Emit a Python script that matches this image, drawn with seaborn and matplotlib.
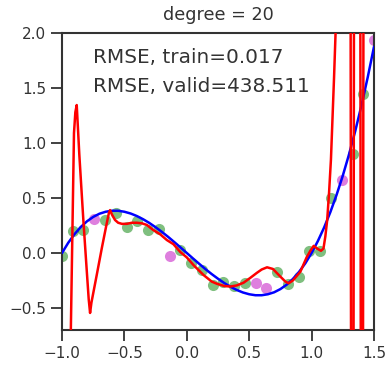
import numpy as np
import pandas as pd
import matplotlib
matplotlib.use("Agg")
import matplotlib.pyplot as plt
import seaborn as sns

# ---- data ----
train_x = [-1.000, -0.914, -0.828, -0.655, -0.569, -0.483, -0.397, -0.310, -0.224,
           -0.052, 0.034, 0.121, 0.207, 0.293, 0.379, 0.466, 0.724, 0.810, 0.897,
           0.983, 1.069, 1.155, 1.328, 1.414]
train_y = [-0.03, 0.20, 0.21, 0.30, 0.366, 0.234, 0.29, 0.21, 0.215,
           0.03, -0.095, -0.15, -0.29, -0.26, -0.30, -0.276, -0.17, -0.28, -0.215,
           0.02, 0.02, 0.50, 0.90, 1.445]
valid_x = [-0.741, -0.138, 0.552, 0.638, 1.241, 1.500]
valid_y = [0.306, -0.024, -0.276, -0.32, 0.66, 1.936]

true_x = [-1.00, -0.95, -0.90, -0.85, -0.80, -0.75, -0.70, -0.65, -0.60, -0.55,
          -0.50, -0.45, -0.40, -0.35, -0.30, -0.25, -0.20, -0.15, -0.10, -0.05,
          0.00, 0.05, 0.10, 0.15, 0.20, 0.25, 0.30, 0.35, 0.40, 0.45,
          0.50, 0.55, 0.60, 0.65, 0.70, 0.75, 0.80, 0.85, 0.90, 0.95,
          1.00, 1.05, 1.10, 1.15, 1.20, 1.25, 1.30, 1.35, 1.40, 1.45, 1.50]
true_y = [0.000, 0.093, 0.171, 0.236, 0.288, 0.328, 0.357, 0.375, 0.384, 0.384,
          0.375, 0.359, 0.336, 0.307, 0.273, 0.234, 0.192, 0.147, 0.099, 0.050,
          0.000, -0.050, -0.099, -0.147, -0.192, -0.234, -0.273, -0.307, -0.336, -0.359,
          -0.375, -0.384, -0.384, -0.375, -0.357, -0.328, -0.288, -0.236, -0.171, -0.093,
          0.000, 0.108, 0.231, 0.371, 0.528, 0.703, 0.897, 1.110, 1.344, 1.599, 1.875]

fit_x = [-0.932, -0.904, -0.893, -0.882, -0.861, -0.829, -0.802, -0.786, -0.775,
         -0.764, -0.72, -0.68, -0.645, -0.625, -0.615, -0.600, -0.575, -0.55, -0.52,
         -0.48, -0.44, -0.40, -0.36, -0.32, -0.27, -0.213, -0.16, -0.107, -0.053,
         0.000, 0.054, 0.134, 0.200, 0.242, 0.300, 0.348, 0.400, 0.455, 0.510,
         0.562, 0.600, 0.643, 0.690, 0.750, 0.790, 0.816, 0.850, 0.910, 0.960,
         0.990, 1.017, 1.045, 1.075, 1.095, 1.110, 1.125, 1.140, 1.155, 1.165,
         1.180, 1.192, 1.210, 1.312, 1.316, 1.336, 1.340, 1.390, 1.394, 1.412,
         1.416, 1.500]
fit_y = [-0.90, 1.09, 1.28, 1.345, 0.89, 0.30, -0.155, -0.42, -0.545,
         -0.45, -0.19, 0.05, 0.25, 0.36, 0.39, 0.35, 0.30, 0.275, 0.265,
         0.265, 0.275, 0.275, 0.27, 0.255, 0.21, 0.17, 0.118, 0.08, 0.01,
         -0.04, -0.11, -0.20, -0.26, -0.28, -0.30, -0.305, -0.295, -0.27, -0.225,
         -0.18, -0.15, -0.13, -0.145, -0.215, -0.26, -0.275, -0.25, -0.17, -0.04,
         0.02, 0.065, 0.04, 0.02, 0.04, 0.15, 0.30, 0.55, 0.85, 1.15,
         1.60, 2.00, 2.80, 2.80, -0.90, -0.90, 2.80, 2.80, -0.90, -0.90,
         2.80, 2.80]

title = "degree = 20"
label_train = "RMSE, train=0.017"
label_valid = "RMSE, valid=438.511"
xticks = [-1.0, -0.5, 0.0, 0.5, 1.0, 1.5]
yticks = [-0.5, 0.0, 0.5, 1.0, 1.5, 2.0]

# ---- plot ----
sns.set_theme(style="ticks")
plt.rcParams['font.family'] = ['DejaVu Sans']

fig = plt.figure(figsize=(3.85, 3.68), dpi=100)
ax = fig.add_axes([62/385, 1 - 330/368, (374 - 62)/385, (330 - 33)/368])

tr = pd.DataFrame({"x": train_x, "y": train_y})
va = pd.DataFrame({"x": valid_x, "y": valid_y})
tf = pd.DataFrame({"x": true_x, "y": true_y})
ff = pd.DataFrame({"x": fit_x, "y": fit_y})

sns.scatterplot(data=tr, x="x", y="y", ax=ax, color="#008000", alpha=0.5, s=64,
                linewidth=0, zorder=2)
sns.scatterplot(data=va, x="x", y="y", ax=ax, color="#bf00bf", alpha=0.5, s=64,
                linewidth=0, zorder=2)
sns.lineplot(data=tf, x="x", y="y", ax=ax, color="#0000ff", linewidth=1.8,
             sort=False, estimator=None, zorder=3)
sns.lineplot(data=ff, x="x", y="y", ax=ax, color="#ff0000", linewidth=1.8,
             sort=False, estimator=None, zorder=4)

ax.set_xlim(-1.0, 1.5)
ax.set_ylim(-0.7, 2.0)
ax.set_xticks(xticks)
ax.set_yticks(yticks)
ax.set_xlabel("")
ax.set_ylabel("")
ax.tick_params(labelsize=11, length=8, width=1.3, colors=".2")
for sp in ax.spines.values():
    sp.set_linewidth(1.5)
    sp.set_color(".2")
ax.set_title(title, fontsize=12.7, pad=9, color=".2")
ax.text(-0.75, 1.727, label_train, fontsize=14.4, va="baseline", color=".2")
ax.text(-0.75, 1.464, label_valid, fontsize=14.4, va="baseline", color=".2")

fig.savefig("out.png", dpi=100)
